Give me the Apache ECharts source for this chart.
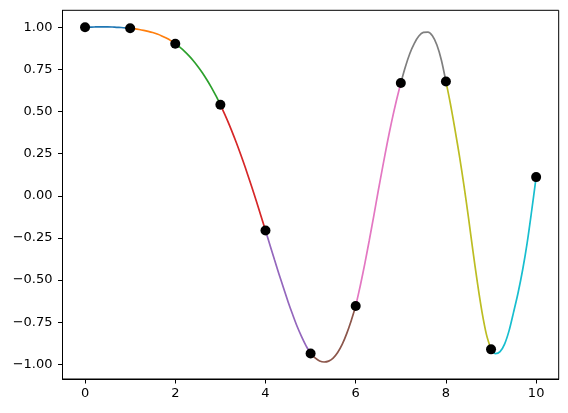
<!DOCTYPE html>
<html>
<head>
<meta charset="utf-8">
<script src="https://cdn.jsdelivr.net/npm/echarts@6/dist/echarts.min.js"></script>
<style>
html,body{margin:0;padding:0;background:#fff;}
#chart{width:568px;height:413px;}
</style>
</head>
<body>
<div id="chart"></div>
<script>
// Sample points (black dots)
var pointX = [0, 1, 2, 3, 4, 5, 6, 7, 8, 9, 10];
var pointY = [1.000, 0.994, 0.903, 0.540, -0.206, -0.936, -0.654, 0.670, 0.679, -0.911, 0.111];

// Curve values every 0.1
var curveX = [];
for (var k = 0; k <= 100; k++) curveX.push(k / 10);
var curveY = [
  1.000, 1.001, 1.002, 1.003, 1.003, 1.003, 1.002, 1.000, 0.999, 0.997,
  0.994, 0.991, 0.987, 0.982, 0.976, 0.969, 0.960, 0.949, 0.936, 0.921,
  0.903, 0.882, 0.859, 0.832, 0.802, 0.768, 0.731, 0.689, 0.644, 0.594,
  0.540, 0.482, 0.420, 0.353, 0.282, 0.208, 0.130, 0.050, -0.034, -0.119,
  -0.206, -0.293, -0.380, -0.465, -0.547, -0.628, -0.703, -0.774, -0.835, -0.890,
  -0.936, -0.962, -0.980, -0.986, -0.981, -0.963, -0.930, -0.882, -0.818, -0.741,
  -0.654, -0.535, -0.405, -0.265, -0.120, 0.030, 0.175, 0.315, 0.445, 0.563,
  0.670, 0.765, 0.845, 0.905, 0.948, 0.970, 0.972, 0.950, 0.895, 0.805,
  0.679, 0.545, 0.395, 0.235, 0.060, -0.130, -0.330, -0.520, -0.690, -0.825,
  -0.911, -0.937, -0.925, -0.880, -0.800, -0.690, -0.575, -0.440, -0.280, -0.090,
  0.111
];

var segColors = ['#1f77b4', '#ff7f0e', '#2ca02c', '#d62728', '#9467bd', '#8c564b', '#e377c2', '#7f7f7f', '#bcbd22', '#17becf'];

var xTicks = [0, 2, 4, 6, 8, 10];
var yTicks = [-1.00, -0.75, -0.50, -0.25, 0.00, 0.25, 0.50, 0.75, 1.00];

var series = [];
for (var s = 0; s < 10; s++) {
  var data = [];
  for (var i = 0; i < curveX.length; i++) {
    if (curveX[i] >= pointX[s] - 1e-9 && curveX[i] <= pointX[s + 1] + 1e-9) data.push([curveX[i], curveY[i]]);
  }
  series.push({
    type: 'line', data: data, smooth: 0.3, showSymbol: false, symbol: 'none',
    lineStyle: {color: segColors[s], width: 1.7}, z: 2, silent: true
  });
}
var pts = pointX.map(function (x, i) { return [x, pointY[i]]; });
series.push({
  type: 'scatter', data: pts, symbolSize: 10,
  itemStyle: {color: '#000', opacity: 1}, z: 5, silent: true
});

var chart = echarts.init(document.getElementById('chart'), null, {renderer: 'canvas'});
var fontFam = 'DejaVu Sans';
chart.setOption({
  animation: false,
  backgroundColor: '#fff',
  grid: {left: 62.5, right: 9.3, top: 10.3, bottom: 34, show: true, borderColor: '#000', borderWidth: 1, backgroundColor: 'transparent'},
  xAxis: {
    type: 'value', min: -0.5, max: 10.5,
    axisLine: {show: true, onZero: false, lineStyle: {color: '#000', width: 1}},
    axisTick: {show: true, inside: false, length: 4.5, customValues: xTicks, lineStyle: {color: '#000', width: 1}},
    axisLabel: {customValues: xTicks, color: '#000', fontSize: 13, fontFamily: fontFam, margin: 8,
      formatter: function (v) { return String(v); }},
    splitLine: {show: false}
  },
  yAxis: {
    type: 'value', min: -1.087, max: 1.101,
    axisLine: {show: true, onZero: false, lineStyle: {color: '#000', width: 1}},
    axisTick: {show: true, inside: false, length: 4.5, customValues: yTicks, lineStyle: {color: '#000', width: 1}},
    axisLabel: {customValues: yTicks, color: '#000', fontSize: 13, fontFamily: fontFam, margin: 10,
      formatter: function (v) { return (v < 0 ? '\u2212' : '') + Math.abs(v).toFixed(2); }},
    splitLine: {show: false}
  },
  series: series
});
</script>
</body>
</html>
